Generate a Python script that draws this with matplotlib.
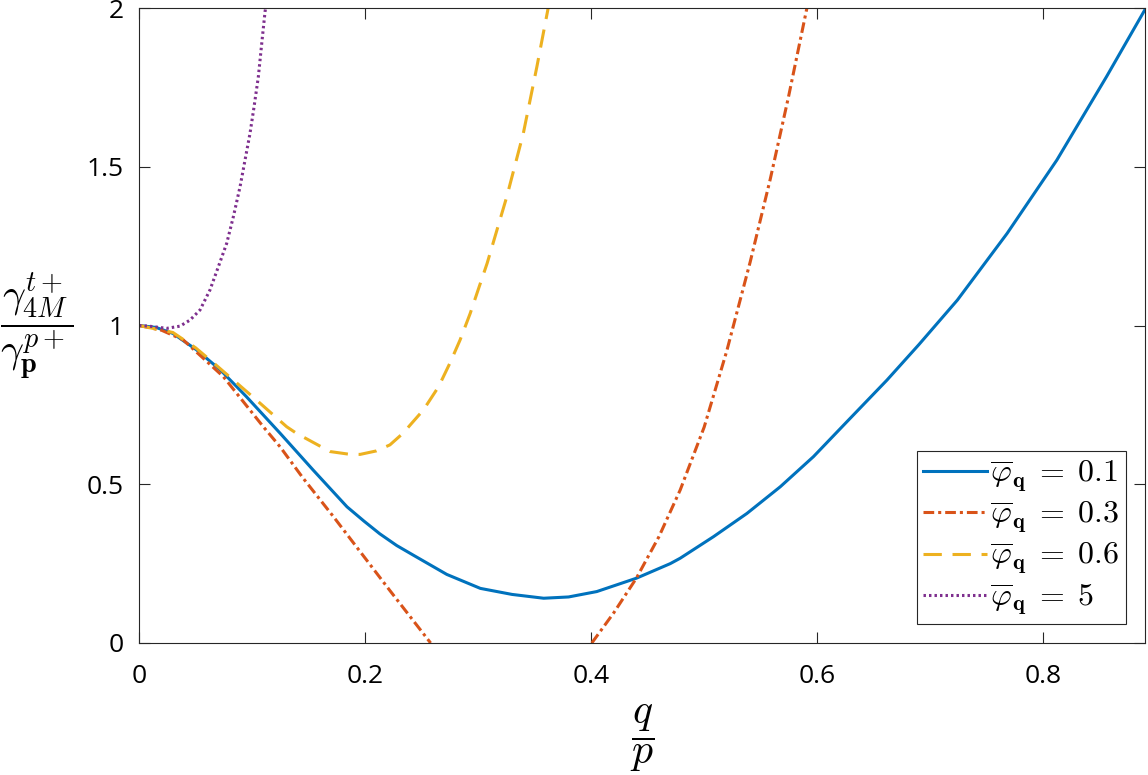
import numpy as np
import matplotlib
matplotlib.use("Agg")
import matplotlib.pyplot as plt

plt.rcParams['font.family'] = ['Open Sans', 'DejaVu Sans']
plt.rcParams['mathtext.fontset'] = 'cm'

# curve values
x_01 = [0, 0.015, 0.030, 0.051, 0.072, 0.095, 0.125, 0.154, 0.184, 0.199, 0.213,
        0.228, 0.243, 0.2723, 0.302, 0.330, 0.358, 0.380, 0.405, 0.440, 0.470,
        0.4788, 0.5083, 0.5378, 0.5673, 0.5967, 0.6263, 0.6617, 0.690, 0.724,
        0.768, 0.812, 0.856, 0.890]
y_01 = [1.000, 0.994, 0.975, 0.923, 0.860, 0.776, 0.660, 0.545, 0.429, 0.384, 0.344,
        0.307, 0.276, 0.216, 0.172, 0.153, 0.141, 0.145, 0.162, 0.204, 0.250,
        0.267, 0.335, 0.408, 0.492, 0.587, 0.697, 0.828, 0.940, 1.080,
        1.290, 1.521, 1.784, 1.995]

x_03 = [0, 0.020, 0.039, 0.0746, 0.110, 0.1248, 0.145, 0.172, 0.184, 0.222, 0.258,
        np.nan,
        0.4006, 0.420, 0.440, 0.460, 0.4788, 0.500, 0.520, 0.5407, 0.5584, 0.5746,
        0.5909]
y_03 = [1.000, 0.985, 0.955, 0.839, 0.681, 0.618, 0.520, 0.398, 0.342, 0.165, 0.0,
        np.nan,
        0.0, 0.095, 0.204, 0.335, 0.482, 0.680, 0.920, 1.200, 1.460, 1.720,
        2.0]

x_06 = [0, 0.030, 0.050, 0.066, 0.104, 0.1307, 0.1395, 0.169, 0.185, 0.1956, 0.210,
        0.222, 0.234, 0.240, 0.2516, 0.265, 0.275, 0.284, 0.293, 0.300, 0.308,
        0.3254, 0.340, 0.352, 0.362]
y_06 = [1.000, 0.978, 0.930, 0.882, 0.765, 0.681, 0.660, 0.603, 0.595, 0.594, 0.605,
        0.624, 0.662, 0.687, 0.734, 0.807, 0.881, 0.954, 1.038, 1.112, 1.196,
        1.406, 1.605, 1.815, 2.0]

x_5 = [0, 0.0088, 0.0245, 0.0363, 0.0451, 0.054, 0.0628, 0.0702, 0.0776, 0.0835,
       0.0894, 0.0938, 0.0982, 0.1018, 0.1056, 0.1086, 0.1115, 0.1120]
y_5 = [1.000, 0.998, 0.991, 0.998, 1.017, 1.049, 1.112, 1.185, 1.259, 1.343,
       1.437, 1.521, 1.605, 1.689, 1.784, 1.889, 1.988, 2.0]

labels = [r'$\overline{\varphi}_{\mathbf{q}}\;=\;0.1$', r'$\overline{\varphi}_{\mathbf{q}}\;=\;0.3$',
          r'$\overline{\varphi}_{\mathbf{q}}\;=\;0.6$', r'$\overline{\varphi}_{\mathbf{q}}\;=\;5$']
colors = ['#0072BD', '#D95319', '#EDB120', '#7E2F8E']

fig = plt.figure(figsize=(11.48, 7.75), dpi=100)
ax = fig.add_axes([139/1148, 132/775, 1006/1148, 635/775])

lw = 2.2
ax.plot(x_01, y_01, color=colors[0], lw=lw, ls='-', label=labels[0])
ax.plot(x_03, y_03, color=colors[1], lw=lw, dashes=(3.5, 1.3, 1.0, 1.3), label=labels[1])
ax.plot(x_06, y_06, color=colors[2], lw=lw, dashes=(6, 3.5), label=labels[2])
ax.plot(x_5, y_5, color=colors[3], lw=lw, dashes=(0.8, 1.0), label=labels[3])

ax.set_xlim(0, 0.89)
ax.set_ylim(0, 2)
ax.set_xticks([0, 0.2, 0.4, 0.6, 0.8])
ax.set_xticklabels(['0', '0.2', '0.4', '0.6', '0.8'])
ax.set_yticks([0, 0.5, 1, 1.5, 2])
ax.set_yticklabels(['0', '0.5', '1', '1.5', '2'])
ax.tick_params(direction='in', length=8, width=0.8, color='#262626',
               labelsize=19, top=True, right=True)
ax.tick_params(axis='x', pad=15)
ax.tick_params(axis='y', pad=11)
for s in ax.spines.values():
    s.set_color('#262626')
    s.set_linewidth(0.8)

fig.text(642/1148, 1 - 738/775, r'$\dfrac{q}{p}$', fontsize=30, ha='center', va='center')
fig.text(37/1148, 1 - 327/775, r'$\dfrac{\gamma^{t+}_{4M}}{\gamma^{p+}_{\mathbf{p}}}$',
         fontsize=29, ha='center', va='center')

leg = ax.legend(loc='lower right', fontsize=23, handlelength=2.0, handletextpad=0.1,
                labelspacing=0.15, borderpad=0.2, borderaxespad=0.6,
                fancybox=False, framealpha=1, edgecolor='#262626')
leg.get_frame().set_linewidth(0.8)

fig.savefig('out.png', dpi=100)
